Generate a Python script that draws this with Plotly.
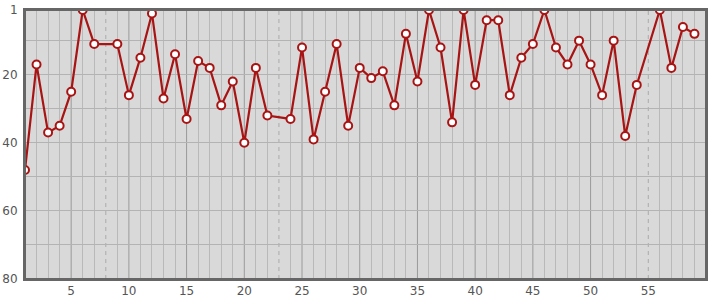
import plotly.graph_objects as go

x_vals = list(range(1, 60))
ranks = [48, 17, 37, 35, 25, 1, 11, None, 11, 26,
         15, 2, 27, 14, 33, 16, 18, 29, 22, 40,
         18, 32, None, 33, 12, 39, 25, 11, 35, 18,
         21, 19, 29, 8, 22, 1, 12, 34, 1, 23,
         4, 4, 26, 15, 11, 1, 12, 17, 10, 17,
         26, 10, 38, 23, None, 1, 18, 6, 8]
x_tick_vals = [5, 10, 15, 20, 25, 30, 35, 40, 45, 50, 55]
y_tick_vals = [1, 20, 40, 60, 80]

missing = [x for x, v in zip(x_vals, ranks) if v is None]

fig = go.Figure()
fig.add_trace(go.Scatter(
    x=x_vals, y=ranks, mode="lines+markers", connectgaps=True,
    line=dict(color="#a81414", width=2.2),
    marker=dict(symbol="circle", size=8, color="white",
                line=dict(color="#a81414", width=2)),
    hoverinfo="x+y", showlegend=False,
))

shapes = []
for xv in x_tick_vals:
    if xv not in missing:
        shapes.append(dict(type="line", xref="x", yref="paper", x0=xv, x1=xv, y0=0, y1=1,
                           line=dict(color="#9a9a9a", width=1), layer="below"))
for xv in missing:
    shapes.append(dict(type="line", xref="x", yref="paper", x0=xv, x1=xv, y0=0, y1=1,
                       line=dict(color="#aaaaaa", width=1, dash="4px,4px"), layer="below"))
shapes.append(dict(type="rect", xref="paper", yref="paper", x0=0, x1=1, y0=0, y1=1,
                   line=dict(color="#666666", width=2), layer="above"))

minor_x = [x for x in range(2, 60) if x not in missing and x not in x_tick_vals]

fig.update_layout(
    width=715, height=300,
    margin=dict(l=25, r=9, t=10, b=21),
    paper_bgcolor="white", plot_bgcolor="#d9d9d9",
    font=dict(family="DejaVu Sans", size=12, color="#555555"),
    shapes=shapes,
    xaxis=dict(range=[1, 60], tickvals=x_tick_vals, showgrid=False, zeroline=False,
               automargin=False,
               ticks="", ticklen=0, tickfont=dict(size=12, color="#555555"),
               showline=True, linecolor="#666666", linewidth=2, mirror=True,
               minor=dict(tickvals=minor_x, showgrid=True, gridcolor="#b9b9b9", gridwidth=1, ticks="")),
    yaxis=dict(range=[80, 1], tickvals=y_tick_vals, showgrid=False, zeroline=False,
               automargin=False,
               ticks="outside", ticklen=3, tickcolor="rgba(0,0,0,0)",
               tickfont=dict(size=12, color="#555555"),
               showline=True, linecolor="#666666", linewidth=2, mirror=True,
               minor=dict(tickvals=[10, 20, 30, 40, 50, 60, 70], showgrid=True,
                          gridcolor="#b3b3b3", gridwidth=1, ticks="")),
)

fig.write_html("out.html")
